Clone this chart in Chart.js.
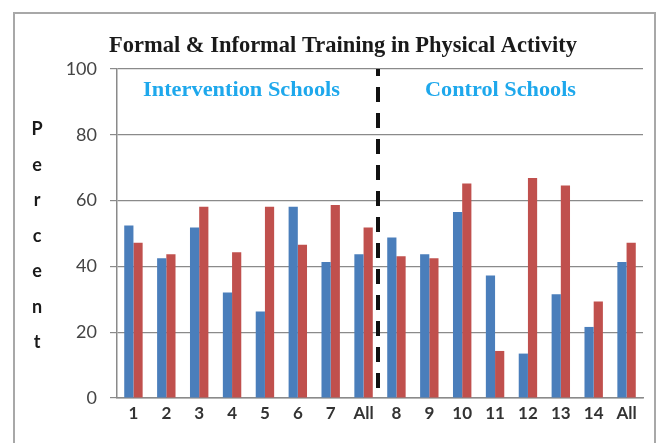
<!DOCTYPE html>
<html>
<head>
<meta charset="utf-8">
<script src="https://cdn.jsdelivr.net/npm/chart.js@4"></script>
<style>
html,body{margin:0;padding:0;background:#fff;}
#wrap{position:relative;width:658px;height:443px;}
</style>
</head>
<body>
<div id="wrap"><canvas id="c" width="658" height="443"></canvas></div>
<script>
const categories = ['1','2','3','4','5','6','7','All','8','9','10','11','12','13','14','All'];
const formalValues   = [52.4,42.5,51.8,32.1,26.3,58.1,41.3,43.7,48.8,43.7,56.5,37.2,13.5,31.5,21.6,41.3];
const informalValues = [47.2,43.7,58.1,44.3,58.1,46.6,58.7,51.8,43.1,42.5,65.2,14.3,66.9,64.6,29.3,47.2];
const yTicks = [0,20,40,60,80,100];
const chartTitle = 'Formal & Informal Training in Physical Activity';
const groupLabels = ['Intervention Schools','Control Schools'];
const yAxisTitle = 'Percent';

function fitText(ctx, text, x, y, width, font, align) {
  ctx.save();
  ctx.font = font;
  const w = ctx.measureText(text).width;
  const sx = width / w;
  ctx.translate(x, y);
  ctx.scale(sx, 1);
  ctx.textAlign = align || 'left';
  ctx.textBaseline = 'alphabetic';
  ctx.fillText(text, 0, 0);
  ctx.restore();
}

const decorPlugin = {
  id: 'decor',
  beforeDraw(chart) {
    const ctx = chart.ctx;
    ctx.save();
    ctx.fillStyle = '#fff';
    ctx.fillRect(0, 0, chart.width, chart.height);
    ctx.strokeStyle = '#a8a8a8';
    ctx.lineWidth = 2;
    ctx.strokeRect(14, 13, 641, 440);
    ctx.restore();
  },
  afterDatasetsDraw(chart) {
    const ctx = chart.ctx;
    const xs = chart.scales.x, ys = chart.scales.y;
    const xd = (xs.getPixelForValue(7) + xs.getPixelForValue(8)) / 2 - 2;
    ctx.save();
    ctx.strokeStyle = '#111';
    ctx.lineWidth = 4;
    ctx.setLineDash([15, 11]);
    ctx.lineDashOffset = 8;
    ctx.beginPath();
    ctx.moveTo(xd, ys.getPixelForValue(100));
    ctx.lineTo(xd, ys.getPixelForValue(1.5));
    ctx.stroke();
    ctx.restore();

    ctx.save();
    // title
    ctx.fillStyle = '#1a1a1a';
    fitText(ctx, chartTitle, 109, 52, 468, 'bold 24px "Liberation Serif"', 'left');
    // group labels
    ctx.fillStyle = '#1ea8ec';
    fitText(ctx, groupLabels[0], 143, 96, 197, 'bold 21px "Liberation Serif"', 'left');
    fitText(ctx, groupLabels[1], 425, 96, 151, 'bold 21px "Liberation Serif"', 'left');
    // vertical axis title letters
    ctx.fillStyle = '#1a1a1a';
    ctx.font = 'bold 18px Lato';
    ctx.textAlign = 'center';
    ctx.textBaseline = 'alphabetic';
    const letters = yAxisTitle.split('');
    letters.forEach((ch, i) => ctx.fillText(ch, 37, 135 + i * 35.5));
    ctx.restore();
  }
};

new Chart(document.getElementById('c'), {
  type: 'bar',
  data: {
    labels: categories,
    datasets: [
      { label: 'Formal', data: formalValues, backgroundColor: '#4a7ebb', borderWidth: 0 },
      { label: 'Informal', data: informalValues, backgroundColor: '#c0504d', borderWidth: 0 }
    ]
  },
  options: {
    responsive: false,
    animation: false,
    devicePixelRatio: 1,
    layout: { padding: { top: 69, right: 15, bottom: 0, left: 0 } },
    plugins: { legend: { display: false }, title: { display: false }, tooltip: { enabled: false } },
    datasets: { bar: { categoryPercentage: 0.56, barPercentage: 1.0 } },
    scales: {
      x: {
        offset: true,
        grid: { display: false, drawTicks: false },
        border: { display: true, color: '#8a8a8a', width: 1.5 },
        ticks: { color: '#333', font: { family: 'Lato', weight: 'bold', size: 17 }, padding: 5, maxRotation: 0, autoSkip: false },
        afterFit(s) { s.height = 45; }
      },
      y: {
        min: 0, max: 100,
        afterBuildTicks(s) { s.ticks = yTicks.map(v => ({ value: v })); },
        grid: { color: '#8a8a8a', lineWidth: 1.2, tickLength: 7 },
        border: { display: true, color: '#8a8a8a', width: 1.5 },
        ticks: { color: '#444', font: { family: 'Lato', size: 18 }, padding: 13 },
        afterFit(s) { s.width = 117; }
      }
    }
  },
  plugins: [decorPlugin]
});
</script>
</body>
</html>
